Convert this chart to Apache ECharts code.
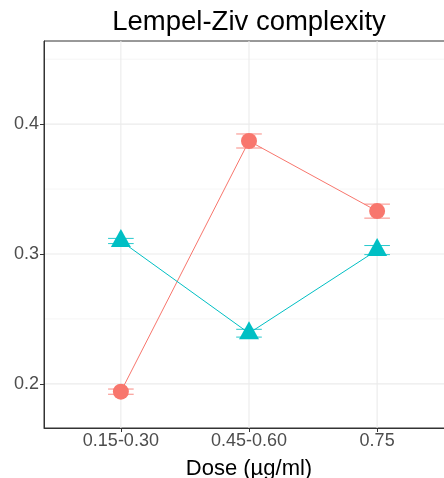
<!DOCTYPE html>
<html>
<head>
<meta charset="utf-8">
<script src="https://cdn.jsdelivr.net/npm/echarts@6/dist/echarts.min.js"></script>
<style>
  html, body { margin: 0; padding: 0; background: #ffffff; }
  #chart { width: 444px; height: 478px; }
</style>
</head>
<body>
<div id="chart"></div>
<script>
// Dose groups on the x axis (positions 1..3)
const doseLabels = ['0.15-0.30', '0.45-0.60', '0.75'];
const dosePositions = [1, 2, 3];

// Mean Lempel-Ziv complexity and standard error per dose
const circleMeans = [0.194, 0.387, 0.333];
const circleErrors = [0.002, 0.0054, 0.0054];
const triangleMeans = [0.310, 0.239, 0.303];
const triangleErrors = [0.002, 0.003, 0.0035];

// Axis ticks and background grid
const yTickValues = [0.2, 0.3, 0.4];
const yMinorGrid = [0.25, 0.35, 0.45];
const yRange = [0.166, 0.464];
const xRange = [0.4, 3.6];

const RED = '#F8766D';
const CYAN = '#00BFC4';
const FONT = '"Liberation Sans", Arial, sans-serif';

const chart = echarts.init(document.getElementById('chart'), null, { renderer: 'canvas' });

function pairs(means) {
  return dosePositions.map((x, i) => [x, means[i]]);
}
function errorData(means, errs) {
  return dosePositions.map((x, i) => [x, means[i] - errs[i], means[i] + errs[i]]);
}

// Horizontal and vertical grid lines drawn in data space
const gridItems = []
  .concat(yTickValues.map(v => ({ value: [0, v], kind: 'hmajor' })))
  .concat(yMinorGrid.map(v => ({ value: [0, v], kind: 'hminor' })))
  .concat(dosePositions.map(v => ({ value: [v, 0], kind: 'vmajor' })));

function renderGrid(params, api) {
  const item = gridItems[params.dataIndex];
  const isH = item.kind !== 'vmajor';
  const v = isH ? api.value(1) : api.value(0);
  const p1 = isH ? api.coord([xRange[0], v]) : api.coord([v, yRange[0]]);
  const p2 = isH ? api.coord([xRange[1], v]) : api.coord([v, yRange[1]]);
  const minor = item.kind === 'hminor';
  return {
    type: 'line',
    shape: { x1: p1[0], y1: p1[1], x2: p2[0], y2: p2[1] },
    style: { stroke: minor ? '#F2F2F2' : '#EBEBEB', lineWidth: minor ? 0.8 : 1.1 },
    silent: true
  };
}

function makeErrorRenderer(color) {
  return function (params, api) {
    const x = api.value(0);
    const lo = api.coord([x, api.value(1)]);
    const hi = api.coord([x, api.value(2)]);
    const left = api.coord([x - 0.1, api.value(1)])[0];
    const right = api.coord([x + 0.1, api.value(1)])[0];
    const style = { stroke: color, lineWidth: 1, opacity: 0.85 };
    return {
      type: 'group',
      children: [
        { type: 'line', shape: { x1: lo[0], y1: lo[1], x2: hi[0], y2: hi[1] }, style },
        { type: 'line', shape: { x1: left, y1: lo[1], x2: right, y2: lo[1] }, style },
        { type: 'line', shape: { x1: left, y1: hi[1], x2: right, y2: hi[1] }, style }
      ]
    };
  };
}

const option = {
  backgroundColor: '#ffffff',
  animation: false,
  grid: {
    left: 44, right: -10, top: 41, bottom: 50,
    show: true, borderColor: '#333333', borderWidth: 1, backgroundColor: 'transparent',
    containLabel: false, outerBoundsMode: 'none'
  },
  graphic: [
    {
      type: 'text', x: 249, y: 22.5,
      style: { text: 'Lempel-Ziv complexity', fontFamily: FONT, fontSize: 27.5, fill: '#000000',
               align: 'center', verticalAlign: 'middle' }
    },
    {
      type: 'text', x: 249, y: 468.5,
      style: { text: 'Dose (µg/ml)', fontFamily: FONT, fontSize: 22, fill: '#000000',
               align: 'center', verticalAlign: 'middle' }
    }
  ],
  xAxis: {
    type: 'value', min: xRange[0], max: xRange[1],
    axisLine: { show: true, onZero: false, lineStyle: { color: '#333333', width: 1 } },
    axisTick: { show: true, length: 4, customValues: dosePositions, lineStyle: { color: '#333333' } },
    axisLabel: {
      customValues: dosePositions, margin: 4,
      formatter: v => doseLabels[Math.round(v) - 1] || '',
      color: '#4D4D4D', fontSize: 18, fontFamily: FONT
    },
    splitLine: { show: false }
  },
  yAxis: {
    type: 'value', min: yRange[0], max: yRange[1],
    axisLine: { show: true, onZero: false, lineStyle: { color: '#333333', width: 1 } },
    axisTick: { show: true, length: 4, customValues: yTickValues, lineStyle: { color: '#333333' } },
    axisLabel: {
      customValues: yTickValues, margin: 5,
      formatter: v => v.toFixed(1),
      color: '#4D4D4D', fontSize: 18, fontFamily: FONT
    },
    splitLine: { show: false }
  },
  series: [
    {
      type: 'custom', name: 'grid', z: 0, silent: true, clip: true,
      renderItem: renderGrid,
      data: gridItems.map(g => g.value)
    },
    {
      type: 'custom', name: 'err-circle', z: 1, silent: true,
      renderItem: makeErrorRenderer(RED),
      data: errorData(circleMeans, circleErrors)
    },
    {
      type: 'custom', name: 'err-triangle', z: 1, silent: true,
      renderItem: makeErrorRenderer(CYAN),
      data: errorData(triangleMeans, triangleErrors)
    },
    {
      type: 'line', name: 'circle', z: 2,
      data: pairs(circleMeans),
      symbol: 'circle', symbolSize: 16,
      itemStyle: { color: RED, opacity: 1 },
      lineStyle: { color: RED, width: 1 }
    },
    {
      type: 'line', name: 'triangle', z: 3,
      data: pairs(triangleMeans),
      symbol: 'triangle', symbolSize: [20, 18], symbolOffset: [0, -3],
      itemStyle: { color: CYAN, opacity: 1 },
      lineStyle: { color: CYAN, width: 1 }
    }
  ]
};

chart.setOption(option);
</script>
</body>
</html>
